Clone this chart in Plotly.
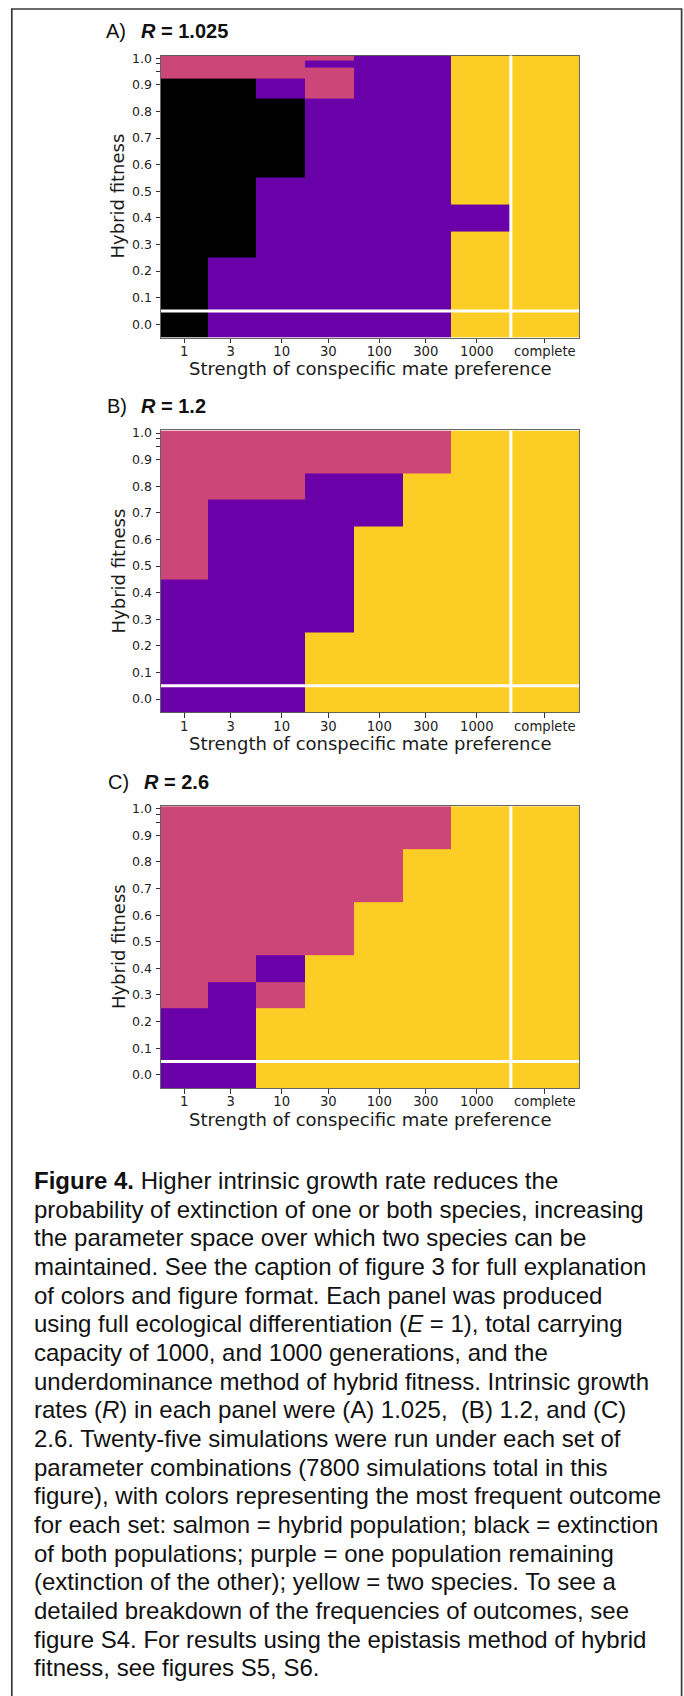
import numpy as np
import plotly.graph_objects as go

# ---------------- data ----------------
pref_labels = ["1", "3", "10", "30", "100", "300", "1000", "complete"]
# "complete" preference is placed at 5000 on the log-scaled axis
pref_strength = [1, 3, 10, 30, 100, 300, 1000, 5000]

hybrid_fitness = [0.0, 0.1, 0.2, 0.3, 0.4, 0.5, 0.6, 0.7, 0.8, 0.9, 0.95, 0.98, 1.0]
fitness_labels = ["0.0", "0.1", "0.2", "0.3", "0.4", "0.5", "0.6", "0.7",
                  "0.8", "0.9", "", "", "1.0"]

# outcome codes: K = extinction of both, P = one population remaining,
# H = hybrid population, Y = two species
outcome_codes = ["K", "P", "H", "Y"]
outcome_colors = ["#000000", "#6a00a8", "#cc4778", "#fcce25"]

# most frequent outcome; rows from hybrid fitness 1.0 (top) down to 0.0,
# columns follow pref_labels
panel_a_rows = [
    "HHHHPPYY",  # 1.0
    "HHHPPPYY",  # 0.98
    "HHHHPPYY",  # 0.95
    "KKPHPPYY",  # 0.9
    "KKKPPPYY",  # 0.8
    "KKKPPPYY",  # 0.7
    "KKKPPPYY",  # 0.6
    "KKPPPPYY",  # 0.5
    "KKPPPPPY",  # 0.4
    "KKPPPPYY",  # 0.3
    "KPPPPPYY",  # 0.2
    "KPPPPPYY",  # 0.1
    "KPPPPPYY",  # 0.0
]
panel_b_rows = [
    "HHHHHHYY",  # 1.0
    "HHHHHHYY",  # 0.98
    "HHHHHHYY",  # 0.95
    "HHHHHHYY",  # 0.9
    "HHHPPYYY",  # 0.8
    "HPPPPYYY",  # 0.7
    "HPPPYYYY",  # 0.6
    "HPPPYYYY",  # 0.5
    "PPPPYYYY",  # 0.4
    "PPPPYYYY",  # 0.3
    "PPPYYYYY",  # 0.2
    "PPPYYYYY",  # 0.1
    "PPPYYYYY",  # 0.0
]
panel_c_rows = [
    "HHHHHHYY",  # 1.0
    "HHHHHHYY",  # 0.98
    "HHHHHHYY",  # 0.95
    "HHHHHHYY",  # 0.9
    "HHHHHYYY",  # 0.8
    "HHHHHYYY",  # 0.7
    "HHHHYYYY",  # 0.6
    "HHHHYYYY",  # 0.5
    "HHPYYYYY",  # 0.4
    "HPHYYYYY",  # 0.3
    "PPYYYYYY",  # 0.2
    "PPYYYYYY",  # 0.1
    "PPYYYYYY",  # 0.0
]

panel_letters = ["A)", "B)", "C)"]
growth_rates = ["1.025", "1.2", "2.6"]
panel_rows = [panel_a_rows, panel_b_rows, panel_c_rows]

caption_lines = [
    "<b>Figure 4.</b> Higher intrinsic growth rate reduces the",
    "probability of extinction of one or both species, increasing",
    "the parameter space over which two species can be",
    "maintained. See the caption of figure 3 for full explanation",
    "of colors and figure format. Each panel was produced",
    "using full ecological differentiation (<i>E</i> = 1), total carrying",
    "capacity of 1000, and 1000 generations, and the",
    "underdominance method of hybrid fitness. Intrinsic growth",
    "rates (<i>R</i>) in each panel were (A) 1.025,\u00a0 (B) 1.2, and (C)",
    "2.6. Twenty-five simulations were run under each set of",
    "parameter combinations (7800 simulations total in this",
    "figure), with colors representing the most frequent outcome",
    "for each set: salmon = hybrid population; black = extinction",
    "of both populations; purple = one population remaining",
    "(extinction of the other); yellow = two species. To see a",
    "detailed breakdown of the frequencies of outcomes, see",
    "figure S4. For results using the epistasis method of hybrid",
    "fitness, see figures S5, S6.",
]

# ---------------- layout constants (pixels) ----------------
W, H = 684, 1696
PLOT_L, PLOT_R = 161.0, 579.0
PANEL_TOPS = [50.7, 426.7, 803.5]
PANEL_H = 282.8
TITLE_LETTER_X = [103.5, 105.0, 105.5]
TITLE_R_X = [138.5, 139.0, 142.0]
SANS = "Liberation Sans, Arial, Helvetica, sans-serif"
MPL = "DejaVu Sans, sans-serif"


def px(x):
    return x / W


def py(y):
    return 1 - y / H


# ---------------- figure ----------------
x_pos = np.log10(pref_strength)
x_edges = np.concatenate([[1.5 * x_pos[0] - 0.5 * x_pos[1]],
                          (x_pos[:-1] + x_pos[1:]) / 2,
                          [1.5 * x_pos[-1] - 0.5 * x_pos[-2]]])
fit = np.array(hybrid_fitness)
y_edges = np.concatenate([[1.5 * fit[0] - 0.5 * fit[1]],
                          (fit[:-1] + fit[1:]) / 2,
                          [1.5 * fit[-1] - 0.5 * fit[-2]]])

n = len(outcome_codes)
colorscale = []
for i, c in enumerate(outcome_colors):
    colorscale.append([i / n, c])
    colorscale.append([(i + 1) / n, c])

fig = go.Figure()
layout = dict(
    width=W, height=H,
    margin=dict(l=0, r=0, t=0, b=0),
    paper_bgcolor="white", plot_bgcolor="white",
    showlegend=False,
)
annotations = []
shapes = []

for k, rows in enumerate(panel_rows):
    # rows are listed top-down; flip so row 0 is hybrid fitness 0.0
    z = [[outcome_codes.index(ch) for ch in row] for row in rows[::-1]]
    sfx = "" if k == 0 else str(k + 1)
    fig.add_trace(go.Heatmap(
        x=x_pos, y=hybrid_fitness, z=z,
        zmin=-0.5, zmax=n - 0.5, colorscale=colorscale,
        showscale=False, hoverinfo="skip",
        xaxis="x" + sfx, yaxis="y" + sfx,
    ))
    top = PANEL_TOPS[k]
    bottom = top + PANEL_H
    axis_common = dict(
        showgrid=False, zeroline=False, showline=True, mirror=True,
        linecolor="rgba(50,50,50,0.75)", linewidth=1,
        ticks="outside", ticklen=4.5, tickwidth=1, tickcolor="#333",
        fixedrange=True,
    )
    layout["xaxis" + sfx] = dict(
        axis_common, domain=[px(PLOT_L), px(PLOT_R)],
        range=[x_edges[0], x_edges[-1]], anchor="y" + sfx,
        tickmode="array", tickvals=list(x_pos), ticktext=pref_labels,
        tickfont=dict(family=MPL, size=13.2, color="#222"),
        ticklabelstandoff=-3,
    )
    layout["yaxis" + sfx] = dict(
        axis_common, domain=[py(bottom), py(top)],
        range=[y_edges[0], y_edges[-1]], anchor="x" + sfx,
        tickmode="array", tickvals=hybrid_fitness, ticktext=fitness_labels,
        tickfont=dict(family=MPL, size=12.5, color="#222"),
        ticklabelstandoff=1,
    )

    # white separators for the zero-fitness row and the "complete" column
    shapes.append(dict(type="line", xref="x" + sfx + " domain", yref="y" + sfx,
                       x0=0, x1=1, y0=y_edges[1], y1=y_edges[1],
                       line=dict(color="white", width=3)))
    shapes.append(dict(type="line", xref="x" + sfx, yref="y" + sfx + " domain",
                       x0=x_edges[-2], x1=x_edges[-2], y0=0, y1=1,
                       line=dict(color="white", width=3)))

    # panel title
    cy = top - 24.6
    annotations.append(dict(
        text=panel_letters[k], x=px(TITLE_LETTER_X[k]), y=py(cy),
        xref="paper", yref="paper", xanchor="left", yanchor="middle",
        showarrow=False, font=dict(family=SANS, size=20, color="#111")))
    annotations.append(dict(
        text="<b><i>R</i> = " + growth_rates[k] + "</b>",
        x=px(TITLE_R_X[k]), y=py(cy),
        xref="paper", yref="paper", xanchor="left", yanchor="middle",
        showarrow=False, font=dict(family=SANS, size=20, color="#111")))

    # axis titles
    annotations.append(dict(
        text="Strength of conspecific mate preference",
        x=px((PLOT_L + PLOT_R) / 2), y=py(bottom + 31.5),
        xref="paper", yref="paper", xanchor="center", yanchor="middle",
        showarrow=False, font=dict(family=MPL, size=18, color="#1a1a1a")))
    annotations.append(dict(
        text="Hybrid fitness", textangle=-90,
        x=px(118), y=py((top + bottom) / 2),
        xref="paper", yref="paper", xanchor="center", yanchor="middle",
        showarrow=False, font=dict(family=MPL, size=18, color="#1a1a1a")))

# caption, one annotation per line
CAP_X, CAP_BASE0, CAP_STEP, CAP_SIZE = 31.5, 1187.3, 28.75, 24
for i, line in enumerate(caption_lines):
    base = CAP_BASE0 + i * CAP_STEP
    annotations.append(dict(
        text=line, x=px(CAP_X), y=py(base - 0.35 * CAP_SIZE),
        xref="paper", yref="paper", xanchor="left", yanchor="middle",
        showarrow=False, font=dict(family=SANS, size=CAP_SIZE, color="#111")))

# outer frame (open at the bottom of the page)
shapes.append(dict(type="rect", xref="paper", yref="paper",
                   x0=px(11.8), x1=px(681.6), y0=-0.02, y1=py(4.0),
                   line=dict(color="#3a3a3a", width=1.7), layer="above"))

layout["annotations"] = annotations
layout["shapes"] = shapes
fig.update_layout(**layout)

fig.write_html("out.html")
